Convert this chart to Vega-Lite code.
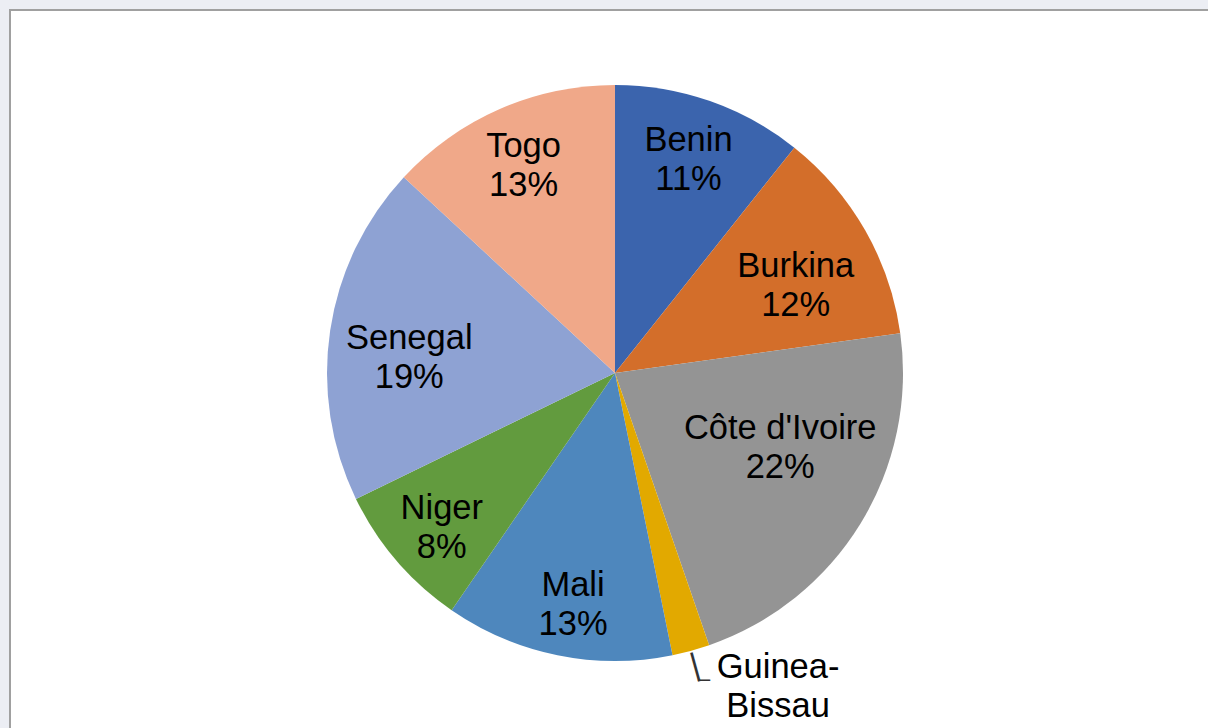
{
  "$schema": "https://vega.github.io/schema/vega-lite/v6.json",
  "autosize": {"type": "fit", "contains": "padding"},
  "width": 1208,
  "height": 728,
  "padding": {"left": 10, "top": 10, "right": -12, "bottom": -8},
  "background": "#eceef4",
  "view": {"fill": "white", "stroke": "#a0a0a0", "strokeWidth": 2},
  "config": {"view": {"fill": "white", "stroke": "#a0a0a0", "strokeWidth": 2}},
  "data": {
    "values": [
      {"country": "Benin", "share": 10.7, "lines": ["Benin", "11%"]},
      {"country": "Burkina", "share": 12.1, "lines": ["Burkina", "12%"]},
      {"country": "Côte d'Ivoire", "share": 21.9, "lines": ["Côte d'Ivoire", "22%"]},
      {"country": "Guinea-Bissau", "share": 2.1, "lines": ["Guinea-", "Bissau"]},
      {"country": "Mali", "share": 12.8, "lines": ["Mali", "13%"]},
      {"country": "Niger", "share": 8.2, "lines": ["Niger", "8%"]},
      {"country": "Senegal", "share": 19.1, "lines": ["Senegal", "19%"]},
      {"country": "Togo", "share": 13.1, "lines": ["Togo", "13%"]}
    ]
  },
  "encoding": {
    "theta": {"field": "share", "type": "quantitative", "stack": true},
    "detail": {"field": "country", "type": "nominal"}
  },
  "layer": [
    {
      "mark": {"type": "arc", "radius": 288, "strokeWidth": 0},
      "encoding": {
        "color": {
          "field": "country",
          "type": "nominal",
          "legend": null,
          "scale": {
            "domain": ["Benin", "Burkina", "Côte d'Ivoire", "Guinea-Bissau", "Mali", "Niger", "Senegal", "Togo"],
            "range": ["#3b64ad", "#d36e2a", "#949494", "#e2a900", "#4e87bd", "#629b3e", "#8ea2d3", "#f0a889"]
          }
        }
      }
    },
    {
      "mark": {"type": "text", "radius": 226, "dx": -1, "dy": -19, "font": "Liberation Sans", "fontSize": 34.5, "lineHeight": 39, "align": "center", "baseline": "middle", "color": "black"},
      "encoding": {
        "text": {"condition": {"test": "indexof(['Benin','Togo'], datum.country) >= 0", "field": "lines", "type": "nominal"}, "value": ""}
      }
    },
    {
      "mark": {"type": "text", "radius": 235, "dx": 5, "dy": -17, "font": "Liberation Sans", "fontSize": 34.5, "lineHeight": 39, "align": "center", "baseline": "middle", "color": "black"},
      "encoding": {
        "text": {"condition": {"test": "indexof(['Mali','Niger'], datum.country) >= 0", "field": "lines", "type": "nominal"}, "value": ""}
      }
    },
    {
      "mark": {"type": "text", "radius": 208, "dy": -3, "font": "Liberation Sans", "fontSize": 34.5, "lineHeight": 39, "align": "center", "baseline": "middle", "color": "black"},
      "encoding": {
        "text": {"condition": {"test": "indexof(['Burkina','Senegal'], datum.country) >= 0", "field": "lines", "type": "nominal"}, "value": ""}
      }
    },
    {
      "mark": {"type": "text", "radius": 182, "dx": 10, "dy": -39, "font": "Liberation Sans", "fontSize": 34.5, "lineHeight": 39, "align": "center", "baseline": "middle", "color": "black"},
      "encoding": {
        "text": {"condition": {"test": "datum.country == \"Côte d'Ivoire\"", "field": "lines", "type": "nominal"}, "value": ""}
      }
    },
    {
      "mark": {"type": "text", "radius": 330, "dx": 76, "dy": -23, "font": "Liberation Sans", "fontSize": 34.5, "lineHeight": 39, "align": "center", "baseline": "middle", "color": "black"},
      "encoding": {
        "text": {"condition": {"test": "datum.country == 'Guinea-Bissau'", "field": "lines", "type": "nominal"}, "value": ""}
      }
    },
    {
      "mark": {"type": "text", "radius": 303, "angle": -15.3, "font": "Liberation Sans", "fontSize": 32, "align": "center", "baseline": "middle", "color": "#333333"},
      "encoding": {
        "text": {"condition": {"test": "datum.country == 'Guinea-Bissau'", "value": "|"}, "value": ""}
      }
    },
    {
      "mark": {"type": "text", "radius": 318, "dx": -1, "dy": 6, "font": "Liberation Sans", "fontSize": 22, "align": "left", "baseline": "alphabetic", "color": "#333333"},
      "encoding": {
        "text": {"condition": {"test": "datum.country == 'Guinea-Bissau'", "value": "–"}, "value": ""}
      }
    }
  ]
}
